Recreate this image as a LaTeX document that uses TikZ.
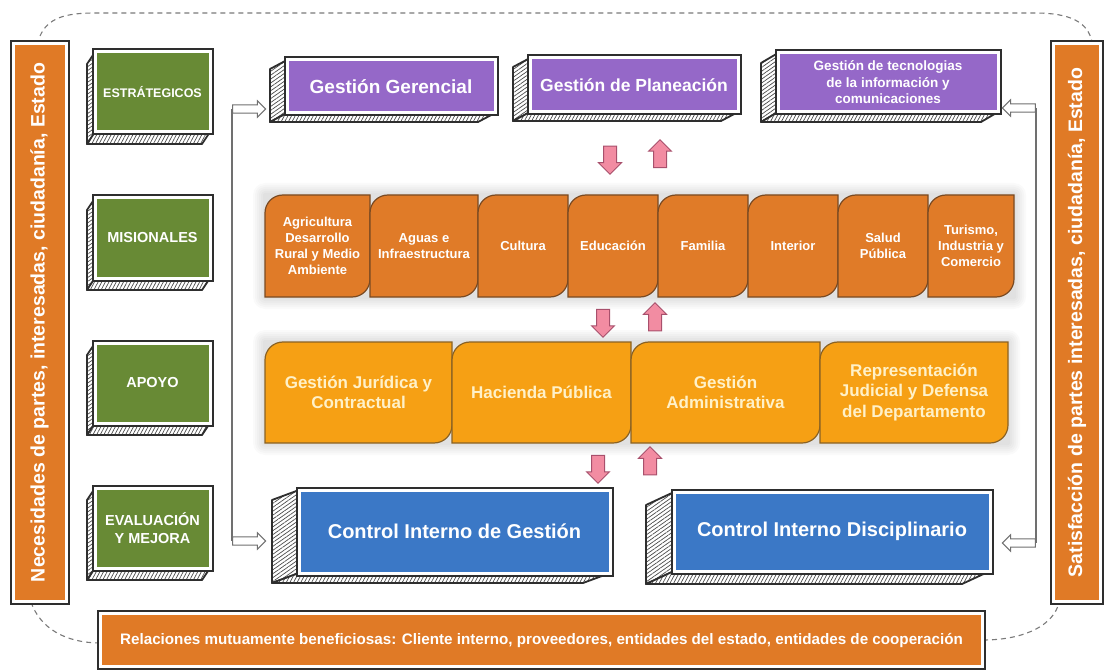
\documentclass[tikz,border=0pt]{standalone}
\usepackage{fontspec}
\setmainfont{Liberation Sans}
\usetikzlibrary{calc,shapes.arrows,patterns.meta}
\definecolor{dark}{HTML}{2E2E2E}
\definecolor{hatchc}{HTML}{4A4A4A}
\definecolor{sideor}{HTML}{E07A26}
\definecolor{grn}{HTML}{688A35}
\definecolor{purp}{HTML}{9568C8}
\definecolor{blu}{HTML}{3B78C6}
\definecolor{misf}{HTML}{E07B28}
\definecolor{misd}{HTML}{7A4A22}
\definecolor{apof}{HTML}{F6A014}
\definecolor{apod}{HTML}{8A6224}
\definecolor{apot}{HTML}{FFF1C8}
\definecolor{pnk}{HTML}{F28CA2}
\definecolor{pnkd}{HTML}{A8506C}
\definecolor{conn}{HTML}{707070}
\definecolor{dashc}{HTML}{7A7A7A}
\newcommand{\fsz}[2]{\bfseries\fontsize{#1}{#2}\selectfont}
\tikzset{
  face/.style={draw=white, line width=3pt, preaction={draw=dark, line width=7pt},
    align=center, text=white, font=\bfseries, inner sep=2pt},
  side/.style={draw=dark, line width=1.8pt, line join=round, preaction={fill=white}, pattern color=hatchc},
  misbox/.style={fill=misf, draw=misd, line width=1.2pt},
  mistext/.style={align=center, text=white, font={\fsz{13}{16}}},
  apobox/.style={fill=apof, draw=apod, line width=1.2pt},
  apotext/.style={align=center, text=apot, font={\fsz{17}{20.5}}},
  pk/.style={single arrow, fill=pnk, draw=pnkd, line width=1pt, minimum height=28pt,
    single arrow head extend=5pt, single arrow head indent=0pt, inner sep=6pt},
  ha/.style={single arrow, fill=white, draw=conn, line width=1.1pt, minimum height=33pt,
    single arrow head extend=4pt, single arrow head indent=0pt, inner sep=3.6pt},
  connline/.style={draw=conn, line width=1.1pt},
  dashline/.style={draw=dashc, dash pattern=on 5pt off 4pt, line width=1.1pt},
  glow/.style={fill=black, opacity=0.018}
}
% #1 name, #2 x1, #3 y1, #4 x2, #5 y2, #6 dx, #7 dy, #8 options, #9 text
\newcommand{\sketchbox}[9]{%
  \path[side, pattern={Lines[angle=35,distance=3.2pt,line width=0.7pt]}]
    (#2,#3) -- (#2-#6,#3+#7) -- (#2-#6,#5+#7) -- (#2,#5) -- cycle;
  \path[side, pattern={Lines[angle=62,distance=3.2pt,line width=0.7pt]}]
    (#2,#5) -- (#2-#6,#5+#7) -- (#4-#6,#5+#7) -- (#4,#5) -- cycle;
  \node[face, #8, minimum width={#4-#2}, minimum height={#5-#3}] (#1)
    at ({(#2+#4)/2},{(#3+#5)/2}) {#9};
}
% #1 name, #2 x1, #3 y1, #4 x2, #5 y2, #6 row prefix, #7 text
\newcommand{\roundbox}[7]{%
  \path[#6box] (#2,#5) -- (#2,#3+18) .. controls (#2,#3+8) and (#2+8,#3) .. (#2+18,#3)
    -- (#4,#3) -- (#4,#5-18) .. controls (#4,#5-8) and (#4-8,#5) .. (#4-18,#5) -- cycle;
  \node[#6text] (#1) at ({(#2+#4)/2},{(#3+#5)/2}) {#7};
}
\newcommand{\softglow}[4]{%
  \foreach \g in {2,4,6,8,10,12}{\fill[glow, rounded corners=\g] (#1-\g,#2-\g) rectangle (#3+\g,#4+\g);}
}
\begin{document}
\begin{tikzpicture}[x=1pt,y=-1pt]
\useasboundingbox (0,0) rectangle (1106,671);
\fill[white] (0,0) rectangle (1106,671);

% dashed surrounding line
\path[dashline] (40,36) .. controls (48,18) and (65,13) .. (95,13) -- (1035,13)
  .. controls (1070,13) and (1088,22) .. (1092,42);
\path[dashline] (31,602) .. controls (40,628) and (65,643) .. (101,643);
\path[dashline] (983,640) .. controls (1020,640) and (1050,628) .. (1058,606);

% side panels and bottom bar
\node[face, fill=sideor, rotate=90, minimum width=557, minimum height=53, font={\fsz{19.5}{23}}]
  (lp) at (39.5,322.5) {Necesidades de partes, interesadas, ciudadanía, Estado};
\node[face, fill=sideor, rotate=90, minimum width=557, minimum height=47, font={\fsz{19.5}{23}}]
  (rp) at (1077,322.5) {Satisfacción de partes interesadas, ciudadanía, Estado};
\node[face, fill=sideor, minimum width=882, minimum height=53, font={\fsz{15.2}{18}}]
  (bar) at (541.5,640) {Relaciones mutuamente beneficiosas: Cliente interno, proveedores, entidades del estado, entidades de cooperación};

% left column labels
\sketchbox{est}{95}{52}{210}{132}{8}{12}{fill=grn,font={\fsz{12.5}{15}}}{ESTRÁTEGICOS}
\sketchbox{mis}{95}{198}{210}{278}{8}{12}{fill=grn,font={\fsz{14.5}{17}}}{MISIONALES}
\sketchbox{apy}{95}{343}{210}{423}{8}{12}{fill=grn,font={\fsz{14.5}{17}}}{APOYO}
\sketchbox{eva}{95}{488}{210}{568}{8}{12}{fill=grn,font={\fsz{14.5}{17.5}}}{EVALUACIÓN\\Y MEJORA}

% strategic
\sketchbox{gg}{287}{60}{495}{113}{17}{9}{fill=purp,font={\fsz{19}{22}}}{Gestión Gerencial}
\sketchbox{gp}{530}{58}{738}{112}{17}{9}{fill=purp,font={\fsz{17.5}{21}}}{Gestión de Planeación}
\sketchbox{gt}{778}{53}{998}{112}{17}{10}{fill=purp,font={\fsz{13.5}{16.5}}}{Gestión de tecnologias\\de la información y\\comunicaciones}

% control
\sketchbox{cig}{299}{490}{610}{573}{27}{10}{fill=blu,font={\fsz{20}{24}}}{Control Interno de Gestión}
\sketchbox{cid}{674}{492}{990}{571}{28}{13}{fill=blu,font={\fsz{20}{24}}}{Control Interno Disciplinario}

% soft shadows behind the process rows
\softglow{265}{195}{1014}{297}
\softglow{265}{342}{1008}{443}

% misional row
\roundbox{m1}{265}{195}{370}{297}{mis}{Agricultura\\Desarrollo\\Rural y Medio\\Ambiente}
\roundbox{m2}{370}{195}{478}{297}{mis}{Aguas e\\Infraestructura}
\roundbox{m3}{478}{195}{568}{297}{mis}{Cultura}
\roundbox{m4}{568}{195}{658}{297}{mis}{Educación}
\roundbox{m5}{658}{195}{748}{297}{mis}{Familia}
\roundbox{m6}{748}{195}{838}{297}{mis}{Interior}
\roundbox{m7}{838}{195}{928}{297}{mis}{Salud\\Pública}
\roundbox{m8}{928}{195}{1014}{297}{mis}{Turismo,\\Industria y\\Comercio}

% apoyo row
\roundbox{a1}{265}{342}{452}{443}{apo}{Gestión Jurídica y\\Contractual}
\roundbox{a2}{452}{342}{631}{443}{apo}{Hacienda Pública}
\roundbox{a3}{631}{342}{820}{443}{apo}{Gestión\\Administrativa}
\roundbox{a4}{820}{342}{1008}{443}{apo}{Representación\\Judicial y Defensa\\del Departamento}

% pink flow arrows
\node[pk, shape border rotate=270] (d1) at (610,157) {};
\node[pk, shape border rotate=90] (u1) at (660,157) {};
\node[pk, shape border rotate=270] (d2) at (603,320) {};
\node[pk, shape border rotate=90] (u2) at (655,320) {};
\node[pk, shape border rotate=270] (d3) at (598,466) {};
\node[pk, shape border rotate=90] (u3) at (650,464) {};

% gray connectors with hollow arrows
\node[ha] (aTL) at (247,109) {};
\node[ha] (aBL) at (247,541) {};
\node[ha, shape border rotate=180] (aTR) at (1021,108) {};
\node[ha, shape border rotate=180] (aBR) at (1021,543) {};
\draw[connline] (aTL.tail) -- (aTL.tail |- aBL.tail) -- (aBL.tail);
\draw[connline] (aTR.tail) -- (aTR.tail |- aBR.tail) -- (aBR.tail);
\end{tikzpicture}
\end{document}
